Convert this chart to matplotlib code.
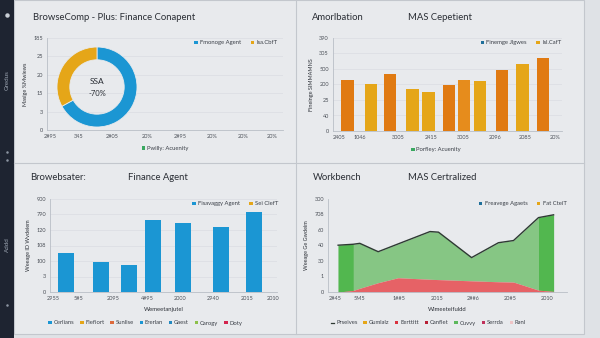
import matplotlib
matplotlib.use("Agg")
import matplotlib.pyplot as plt
from matplotlib.patches import Rectangle, Patch
from matplotlib.lines import Line2D

plt.rcParams['font.family'] = ['Lato', 'DejaVu Sans']

W, H = 600, 338

# ---------------- data ----------------
donut_labels = ["Fmonoge Agent", "Isa.CbfT"]
donut_values = [67, 33]
donut_center = ["SSA", "-70%"]
tl_xticks = ["2#95", "345", "2#05", "20%", "2#95", "20%", "20%", "20%"]
tl_yticks = ["0", "3", "15", "20", "25", "185"]

tr_values = [166, 152, 185, 137, 125, 147, 165, 161, 197, 217, 237]
tr_kinds = ["o", "y", "o", "y", "y", "o", "m", "y", "o", "y", "o"]
tr_xticks = ["2405", "1046", "3005", "2415", "3005", "2096", "2085", "20%"]
tr_yticks = ["0", "40", "25", "200", "500", "305", "390"]

bl_values = [126, 97, 88, 231, 223, 209, 257]
bl_xticks = ["2955", "5#5", "2095", "4#95", "2000", "2940", "2015", "2010"]
bl_yticks = ["0", "3", "100", "108", "120", "790", "900"]
bl_legend = ["Cerlians", "Fiefiort", "Sunlise", "Ererlan", "Gaest", "Carogy", "Doty"]

br_x = [0.32, 0.73, 0.91, 1.41, 1.95, 2.82, 3.05, 3.95, 4.68, 5.09, 5.77, 6.18]
br_total = [151, 154, 157, 130, 155, 195, 193, 111, 159, 166, 240, 249]
br_red = [0, 5, 12, 30, 46, 41, 40, 36, 33, 32, 6, 2]
br_xticks = ["2#45", "5M5", "1##5", "2015", "2##6", "20#5", "2010"]
br_yticks = ["0", "1", "30", "40", "60", "708", "300"]
br_legend = ["Prseives", "Gumlalz", "Eerttitt", "Canflet", "Cuvvy", "Serrda", "Ranl"]

# ---------------- style ----------------
BLUE = "#1b96d3"
ORANGE = "#e07a12"
YELLOW = "#e5a618"
MID = "#e68c1c"
GREEN_L = "#86c684"
GREEN_D = "#52b74f"
RED = "#e66266"
LINE = "#2e3a33"
TXT = "#2a2e35"
PANEL = "#e8eaed"

fig = plt.figure(figsize=(W / 100, H / 100), dpi=100)
fig.patch.set_facecolor("#dfe2e6")

def rect(x0, y0, x1, y1):
    return [x0 / W, 1 - y1 / H, (x1 - x0) / W, (y1 - y0) / H]

def fx(x):
    return x / W

def fy(y):
    return 1 - y / H

# background panels
bg = fig.add_axes([0, 0, 1, 1])
bg.set_xlim(0, W)
bg.set_ylim(H, 0)
bg.axis("off")
bg.add_patch(Rectangle((14, 0), 570, 334, facecolor=PANEL, edgecolor="#c3c7cd", lw=0.8))
bg.add_patch(Rectangle((0, 0), 14, H, facecolor="#1e2431", edgecolor="none"))
bg.plot([14, 584], [163, 163], color="#c3c7cd", lw=0.8)
bg.plot([296, 296], [0, 334], color="#c3c7cd", lw=0.8)
bg.text(7, 80, "Gredus", rotation=90, color="#9aa3b0", fontsize=4.5, ha="center", va="center")
bg.text(7, 245, "Addd", rotation=90, color="#9aa3b0", fontsize=4.5, ha="center", va="center")
bg.plot([7], [15], "o", color="#c9ced6", ms=2.2)
bg.plot([7, 7], [152, 160], "o", color="#8d96a3", ms=0.8, ls="none")
bg.plot([7], [305], "o", color="#8d96a3", ms=0.8)

def style_axes(ax, yticklabels, xticks, xticklabels, ylabel):
    ax.set_facecolor("none")
    for s in ("top", "right"):
        ax.spines[s].set_visible(False)
    ax.spines["left"].set_color("#b9bec6")
    ax.spines["bottom"].set_color("#b9bec6")
    ax.spines["left"].set_linewidth(0.6)
    ax.spines["bottom"].set_linewidth(0.6)
    n = len(yticklabels)
    ax.set_yticks(range(0, 50 * n, 50))
    ax.set_yticklabels(yticklabels)
    ax.set_ylim(0, 50 * (n - 1))
    ax.set_xticks(xticks)
    ax.set_xticklabels(xticklabels)
    ax.tick_params(length=0, labelsize=4, colors="#4a4f57", pad=3)
    ax.grid(axis="y", color="#dadde2", lw=0.5)
    ax.set_axisbelow(True)
    ax.set_ylabel(ylabel, fontsize=4, color=TXT, labelpad=4)

def top_legend(ax, labels, colors, x=0.98, y=1.0):
    hs = [Patch(facecolor=c) for c in colors]
    leg = ax.legend(hs, labels, loc="upper right", bbox_to_anchor=(x, y), ncol=len(labels),
                    frameon=False, fontsize=4.2, handlelength=0.6, handleheight=0.6,
                    handletextpad=0.4, columnspacing=1.6, labelcolor="#3a3f47")
    ax.add_artist(leg)

def small_legend(ax, handles, labels, anchor, ncol=1):
    ax.legend(handles, labels, loc="upper center", bbox_to_anchor=anchor, ncol=ncol,
              frameon=False, fontsize=4.2, handlelength=0.6, handleheight=0.6,
              handletextpad=0.3, columnspacing=1.0, labelcolor="#3a3f47")

TITLE_FS = 6.8

# ---------- top-left ----------
ax1 = fig.add_axes(rect(47, 38, 283, 130))
style_axes(ax1, tl_yticks, [0.09, 0.97, 1.97, 3.03, 4.03, 5.0, 5.94, 6.82], tl_xticks, "Masige %Mwiews")
ax1.set_xlim(0, 7.15)
top_legend(ax1, donut_labels, [BLUE, YELLOW], x=1.0, y=1.03)
small_legend(ax1, [Patch(facecolor="#3aa860")], ["Pwilly: Acuenity"], (0.5, -0.12))
fig.text(fx(33), fy(18), "BrowseComp - Plus: Finance Conapent", fontsize=TITLE_FS, color=TXT, va="center")

axd = fig.add_axes(rect(57, 47, 137, 127))
axd.pie(donut_values, colors=[BLUE, YELLOW], startangle=90, counterclock=False,
        wedgeprops=dict(width=0.32, edgecolor=PANEL, linewidth=0.6))
axd.set_xlim(-1.0, 1.0)
axd.set_ylim(-1.0, 1.0)
axd.set_aspect("equal")
axd.text(0, 0.14, donut_center[0], ha="center", va="center", fontsize=6, color=TXT)
axd.text(0, -0.16, donut_center[1], ha="center", va="center", fontsize=5.5, color=TXT)

# ---------- top-right ----------
ax2 = fig.add_axes(rect(333, 38, 562, 131))
style_axes(ax2, tr_yticks, [0.2, 0.9, 2.17, 3.27, 4.33, 5.4, 6.4, 7.4], tr_xticks, "Fineinge SIMMAMNS")
ax2.set_xlim(0, 7.63)
tr_x = [0.49, 1.26, 1.9, 2.65, 3.18, 3.87, 4.36, 4.9, 5.63, 6.32, 7.0]
cmap = {"o": ORANGE, "y": YELLOW, "m": MID}
ax2.bar(tr_x, tr_values, width=0.42, color=[cmap[k] for k in tr_kinds])
top_legend(ax2, ["Finemge Jlgwes", "Isl.CafT"], ["#1f6f9a", YELLOW], x=1.02, y=1.03)
small_legend(ax2, [Patch(facecolor="#3aa860")], ["Porfley: Acuenity"], (0.45, -0.12))
fig.text(fx(312), fy(18), "Amorlbation", fontsize=TITLE_FS, color=TXT, va="center")
fig.text(fx(408), fy(18), "MAS Cepetient", fontsize=TITLE_FS, color=TXT, va="center")

# ---------- bottom-left ----------
ax3 = fig.add_axes(rect(50, 199, 277, 292))
style_axes(ax3, bl_yticks, [0.09, 0.85, 1.91, 2.94, 3.94, 4.94, 5.97, 6.76], bl_xticks, "Weeage ID Wvdeiem")
ax3.set_xlim(0, 6.88)
ax3.bar([0.48, 1.55, 2.39, 3.12, 4.03, 5.18, 6.18], bl_values, width=0.48, color=BLUE)
ax3.set_xlabel("Wemeetanjutel", fontsize=4.2, color=TXT, labelpad=4)
top_legend(ax3, ["Fisavaggy Agent", "Sei ClefT"], [BLUE, YELLOW], x=1.03, y=1.03)
small_legend(ax3, [Patch(facecolor=c) for c in [BLUE, YELLOW, "#dd6a3c", BLUE, "#2389c0", "#8cc04a", "#d3244e"]],
             bl_legend, (0.42, -0.25), ncol=7)
fig.text(fx(30), fy(178), "Browebsater:", fontsize=TITLE_FS, color=TXT, va="center")
fig.text(fx(128), fy(178), "Finance Agent", fontsize=TITLE_FS, color=TXT, va="center")

# ---------- bottom-right ----------
ax4 = fig.add_axes(rect(328, 199, 567, 292))
style_axes(ax4, br_yticks, [0.23, 0.91, 1.98, 3.0, 4.0, 5.0, 6.0], br_xticks, "Weeage Ge Gwdeim")
ax4.set_xlim(0.045, 6.545)
ax4.grid(False)
ax4.fill_between(br_x, br_red, br_total, color=GREEN_L, lw=0)
ax4.fill_between(br_x[:2], br_red[:2], br_total[:2], color=GREEN_D, lw=0)
ax4.fill_between(br_x[-2:], br_red[-2:], br_total[-2:], color=GREEN_D, lw=0)
ax4.fill_between(br_x, 0, br_red, color=RED, lw=0)
ax4.plot(br_x, br_total, color=LINE, lw=1.0)
ax4.set_xlabel("Wimeeteifuldd", fontsize=4.2, color=TXT, labelpad=4)
top_legend(ax4, ["Freavege Agaets", "Fat CteiT"], ["#1f6f9a", YELLOW], x=1.02, y=1.03)
h4 = [Line2D([], [], color=LINE, lw=0.9)] + [Patch(facecolor=c) for c in
      [YELLOW, "#d9333f", "#b72035", "#5cb85c", "#c0305a", "#efc4c6"]]
small_legend(ax4, h4, br_legend, (0.42, -0.25), ncol=7)
fig.text(fx(313), fy(178), "Workbench", fontsize=TITLE_FS, color=TXT, va="center")
fig.text(fx(408), fy(178), "MAS Certralized", fontsize=TITLE_FS, color=TXT, va="center")

fig.savefig("out.png", dpi=100, facecolor=fig.get_facecolor())
